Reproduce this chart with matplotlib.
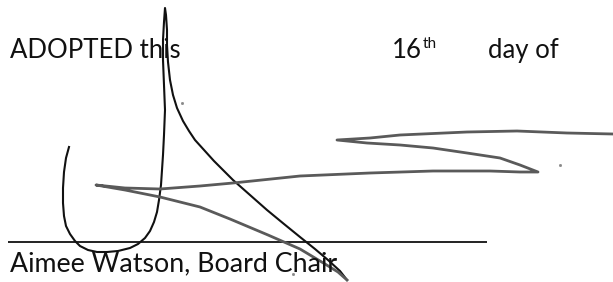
import matplotlib
matplotlib.use('agg')
import matplotlib.pyplot as plt

W, H = 613, 282

# signature strokes, traced in pixel coordinates (x, y from top)
ink_x = [69, 66, 64, 63, 63, 64, 66, 70, 75, 80, 88, 97, 107, 118, 130, 138, 145, 150, 154, 157,
         159, 161, 162, 163, 164, 165, 164, 163, 163, 164, 165,
         166, 167, 167, 168, 170, 173, 177, 183, 189, 195, 214, 233, 250, 267, 284, 300, 315, 328, 340, 347]
ink_y = [147, 158, 172, 188, 203, 216, 226, 234, 241, 246, 250, 252, 252, 251, 248, 244, 238, 231, 222, 212,
         200, 185, 170, 155, 135, 110, 85, 60, 40, 22, 8,
         15, 30, 45, 62, 80, 95, 108, 121, 131, 140, 161, 180, 195, 210, 224, 237, 249, 260, 271, 280]

pen_x = [347, 338, 325, 300, 268, 230, 200, 160, 125, 96, 125, 160, 200, 233, 300, 370, 433, 490,
         520, 538, 520, 500, 467, 433, 400, 367, 337, 370, 400, 467, 517, 567, 613]
pen_y = [280, 272, 264, 249, 235, 219, 207, 197, 190, 185, 188, 189, 186, 183, 176, 173, 171, 171,
         172, 172, 165, 158, 153, 148, 145, 143, 140, 138, 135, 132, 131, 133, 134]

specks_x = [182, 560, 293]
specks_y = [103, 165, 274]

rule_x = [8, 487]
rule_y = [242, 242]

fig = plt.figure(figsize=(W / 100, H / 100), dpi=100)
ax = fig.add_axes([0, 0, 1, 1])
ax.set_xlim(0, W)
ax.set_ylim(H, 0)
ax.axis('off')

font = 'Lato'
fs_top = 18.5
fs_bot = 19.3

ax.text(10, 58, 'ADOPTED this', fontsize=fs_top, family=font, va='baseline', color='#111111')
ax.text(392, 58, '16', fontsize=fs_top, family=font, va='baseline', color='#111111')
ax.text(423, 48, 'th', fontsize=fs_top * 0.6, family=font, va='baseline', color='#111111')
ax.text(488, 58, 'day of', fontsize=fs_top, family=font, va='baseline', color='#111111')
ax.text(10, 271, 'Aimee Watson, Board Chair', fontsize=fs_bot, family=font, va='baseline', color='#111111')

ax.plot(rule_x, rule_y, color='#111111', lw=1.3, solid_capstyle='butt')
ax.plot(ink_x, ink_y, color='#111111', lw=1.5, solid_joinstyle='round')
ax.plot(pen_x, pen_y, color='#5a5a5a', lw=2.0, solid_joinstyle='round')
ax.plot(specks_x, specks_y, 's', color='#888888', ms=1)

fig.savefig('out.png', dpi=100)
